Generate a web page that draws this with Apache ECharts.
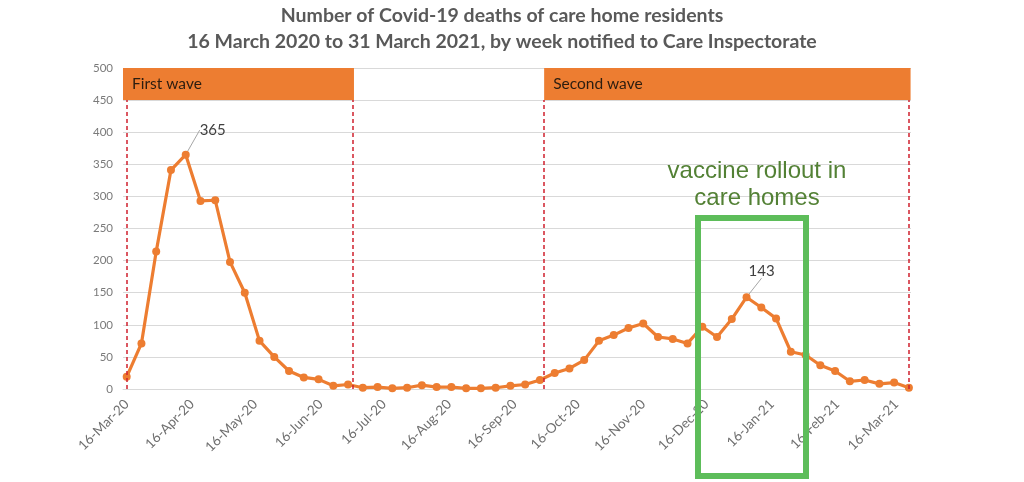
<!DOCTYPE html>
<html>
<head>
<meta charset="utf-8">
<script src="https://cdn.jsdelivr.net/npm/echarts@6/dist/echarts.min.js"></script>
<style>
  html, body { margin: 0; padding: 0; background: #fff; }
  #chart { width: 1024px; height: 482px; }
</style>
</head>
<body>
<div id="chart"></div>
<script>
// week notified (Monday of each week)
const weeks = [
  '2020-03-16', '2020-03-23', '2020-03-30', '2020-04-06', '2020-04-13', '2020-04-20',
  '2020-04-27', '2020-05-04', '2020-05-11', '2020-05-18', '2020-05-25', '2020-06-01',
  '2020-06-08', '2020-06-15', '2020-06-22', '2020-06-29', '2020-07-06', '2020-07-13',
  '2020-07-20', '2020-07-27', '2020-08-03', '2020-08-10', '2020-08-17', '2020-08-24',
  '2020-08-31', '2020-09-07', '2020-09-14', '2020-09-21', '2020-09-28', '2020-10-05',
  '2020-10-12', '2020-10-19', '2020-10-26', '2020-11-02', '2020-11-09', '2020-11-16',
  '2020-11-23', '2020-11-30', '2020-12-07', '2020-12-14', '2020-12-21', '2020-12-28',
  '2021-01-04', '2021-01-11', '2021-01-18', '2021-01-25', '2021-02-01', '2021-02-08',
  '2021-02-15', '2021-02-22', '2021-03-01', '2021-03-08', '2021-03-15', '2021-03-22'
];

// deaths per week
const deaths = [
  19, 71, 214, 341, 365, 293, 294, 198, 150, 75, 50, 28,
  18, 15, 5, 7, 2, 3, 1, 2, 6, 3, 3, 1,
  1, 2, 5, 7, 14, 25, 32, 45, 75, 84, 95, 102,
  81, 78, 71, 97, 81, 109, 143, 127, 110, 58, 53, 37,
  28, 12, 14, 8, 10, 2
];

// x axis labels: the 16th of every month
const tickDates = [
  '2020-03-16', '2020-04-16', '2020-05-16', '2020-06-16', '2020-07-16', '2020-08-16',
  '2020-09-16', '2020-10-16', '2020-11-16', '2020-12-16', '2021-01-16', '2021-02-16',
  '2021-03-16'
];
const tickLabels = [
  '16-Mar-20', '16-Apr-20', '16-May-20', '16-Jun-20', '16-Jul-20', '16-Aug-20',
  '16-Sep-20', '16-Oct-20', '16-Nov-20', '16-Dec-20', '16-Jan-21', '16-Feb-21', '16-Mar-21'
];

// waves
const waveNames = ['First wave', 'Second wave'];
const waveStarts = ['2020-03-16', '2020-09-30'];
const waveEnds = ['2020-07-01', '2021-03-22'];

const labelled = [4, 42];

const DAY = 86400e3;
const ts = (d) => new Date(d + 'T00:00:00Z').getTime();
const tickValues = tickDates.map(ts);
const xMin = ts('2020-03-14') + DAY / 4;
const xMax = ts('2021-03-23');

const chart = echarts.init(document.getElementById('chart'));

const orange = '#ED7D31';
const red = '#D0202E';

const markLines = waveStarts.concat(waveEnds).map(d =>
  [{ coord: [ts(d), 0] }, { coord: [ts(d), 450] }]
);

const option = {
  backgroundColor: '#fff',
  animation: false,
  title: {
    text: 'Number of Covid-19 deaths of care home residents\n16 March 2020 to 31 March 2021, by week notified to Care Inspectorate',
    left: 497,
    textAlign: 'center',
    top: -2,
    textStyle: {
      fontFamily: 'Lato',
      fontWeight: 'bold',
      fontSize: 19.5,
      lineHeight: 26,
      color: '#595959'
    }
  },
  grid: { left: 123, right: 113, top: 68, bottom: 93 },
  xAxis: {
    type: 'value',
    min: xMin,
    max: xMax,
    axisLine: { onZero: false, lineStyle: { color: '#d9d9d9', width: 1 } },
    axisTick: { show: false },
    splitLine: { show: false },
    axisLabel: {
      customValues: tickValues,
      rotate: 45,
      fontFamily: 'Lato',
      fontSize: 13.5,
      color: '#6f6f6f',
      margin: 13,
      showMinLabel: true,
      showMaxLabel: true,
      formatter: (v) => {
        const i = tickValues.indexOf(v);
        return i >= 0 ? tickLabels[i] : '';
      }
    }
  },
  yAxis: {
    type: 'value',
    min: 0,
    max: 500,
    interval: 50,
    axisLine: { show: false },
    axisTick: { show: false },
    axisLabel: { fontFamily: 'Lato', fontSize: 11.5, color: '#7a7a7a', margin: 10 },
    splitLine: { lineStyle: { color: '#d9d9d9', width: 1 } }
  },
  series: [{
    type: 'line',
    data: weeks.map((w, i) => {
      const item = { value: [ts(w), deaths[i]] };
      if (labelled.includes(i)) {
        item.label = {
          show: true,
          formatter: String(deaths[i]),
          fontFamily: 'Lato',
          fontSize: 15,
          color: '#404040'
        };
      }
      return item;
    }),
    symbol: 'circle',
    symbolSize: 8,
    itemStyle: { color: orange },
    lineStyle: { color: orange, width: 3.2 },
    labelLine: { show: true, lineStyle: { color: '#a6a6a6', width: 1 } },
    labelLayout: (p) => {
      if (p.dataIndex === 4) return { dx: 27, dy: -8 };
      if (p.dataIndex === 42) return { dx: 15, dy: -10 };
      return {};
    },
    markLine: {
      silent: true,
      symbol: 'none',
      label: { show: false },
      lineStyle: { color: red, type: [4, 3], width: 1.5 },
      data: markLines
    },
    markArea: {
      silent: true,
      itemStyle: { color: orange },
      label: {
        position: 'insideLeft',
        fontFamily: 'Lato',
        fontSize: 15.5,
        color: '#2b1d10',
        offset: [4, 0]
      },
      data: waveNames.map((n, i) => [
        { name: n, coord: [i === 0 ? xMin : ts(waveStarts[i]), 450] },
        { coord: [ts(waveEnds[i]) + DAY * 0.8, 500] }
      ])
    },
    z: 3
  }],
  graphic: [
    {
      type: 'rect',
      shape: { x: 698, y: 218, width: 108, height: 258 },
      style: { fill: 'none', stroke: '#5dbd5a', lineWidth: 6 },
      z: 10
    },
    {
      type: 'text',
      style: {
        x: 757,
        y: 158,
        text: 'vaccine rollout in\ncare homes',
        textAlign: 'center',
        font: '24px "Liberation Sans"',
        lineHeight: 27,
        fill: '#538135'
      },
      z: 10
    }
  ]
};

chart.setOption(option);
</script>
</body>
</html>
